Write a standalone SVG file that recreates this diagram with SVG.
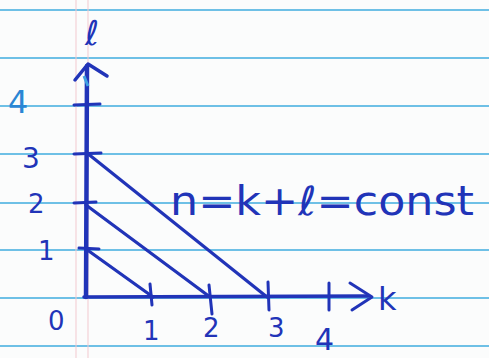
<svg xmlns="http://www.w3.org/2000/svg" width="489" height="358" viewBox="0 0 489 358">
<style>
.rule{stroke:#6ec0e6;stroke-width:2.2;fill:none}
.margin{stroke:#f2c9cf;stroke-width:1;fill:none}
.ink{stroke:#2134b8;stroke-linecap:round;stroke-linejoin:round;fill:none}
.lbl{font-family:"DejaVu Sans","Liberation Sans",sans-serif;fill:#2134b8}
</style>
<rect width="489" height="358" fill="#fbfcfc"/>
<g id="paper">
<line class="rule" x1="0" y1="10" x2="489" y2="10"/>
<line class="rule" x1="0" y1="58" x2="489" y2="58"/>
<line class="rule" x1="0" y1="106" x2="489" y2="106"/>
<line class="rule" x1="0" y1="154" x2="489" y2="154"/>
<line class="rule" x1="0" y1="203" x2="489" y2="203"/>
<line class="rule" x1="0" y1="250" x2="489" y2="250"/>
<line class="rule" x1="0" y1="298" x2="489" y2="298"/>
<line class="rule" x1="0" y1="346" x2="489" y2="346"/>
<line class="margin" x1="76" y1="0" x2="76" y2="358"/>
<line class="margin" x1="88" y1="0" x2="88" y2="358"/>
</g>
<g id="axes">
<path class="ink" stroke-width="4.5" d="M86 297 L87 66"/>
<path class="ink" stroke-width="3.5" d="M75 80 L88 64 L107 76"/>
<path stroke="#3fa0e0" stroke-width="3" fill="none" d="M84 76 L88 86"/>
<path class="ink" stroke-width="3.5" d="M84 297 L368 296"/>
<path class="ink" stroke-width="3" d="M350 283 L372 297 L352 310"/>
</g>
<g id="ticks">
<path class="ink" stroke-width="3" d="M74 105 L100 104"/>
<path class="ink" stroke-width="3" d="M74 154 L101 153"/>
<path class="ink" stroke-width="3" d="M74 203 L96 202"/>
<path class="ink" stroke-width="3" d="M79 248 L99 249"/>
<path class="ink" stroke-width="3" d="M150 284 L152 305"/>
<path class="ink" stroke-width="3" d="M209 285 L212 314"/>
<path class="ink" stroke-width="3" d="M268 282 L269 310"/>
<path class="ink" stroke-width="3" d="M329 283 L329 310"/>
</g>
<g id="lines">
<path class="ink" stroke-width="3.2" d="M86 249 L153 297"/>
<path class="ink" stroke-width="3.2" d="M86 205 L210 297"/>
<path class="ink" stroke-width="3.2" d="M87 153 L267 297"/>
</g>
<g id="labels">
<text class="lbl" x="85" y="45" font-size="34" font-style="italic">ℓ</text>
<text class="lbl" x="378" y="310" font-size="32">k</text>
<text class="lbl" x="8" y="113" font-size="32" fill="#2a86d4" style="fill:#2a86d4">4</text>
<text class="lbl" x="22" y="168" font-size="28">3</text>
<text class="lbl" x="28" y="213" font-size="26">2</text>
<text class="lbl" x="38" y="260" font-size="26">1</text>
<text class="lbl" x="48" y="330" font-size="26">0</text>
<text class="lbl" x="143" y="340" font-size="26">1</text>
<text class="lbl" x="203" y="337" font-size="26">2</text>
<text class="lbl" x="268" y="337" font-size="26">3</text>
<text class="lbl" x="315" y="350" font-size="30">4</text>
<text class="lbl" x="170" y="215" font-size="40" textLength="304" lengthAdjust="spacingAndGlyphs">n=k+ℓ=const</text>
</g>
</svg>
